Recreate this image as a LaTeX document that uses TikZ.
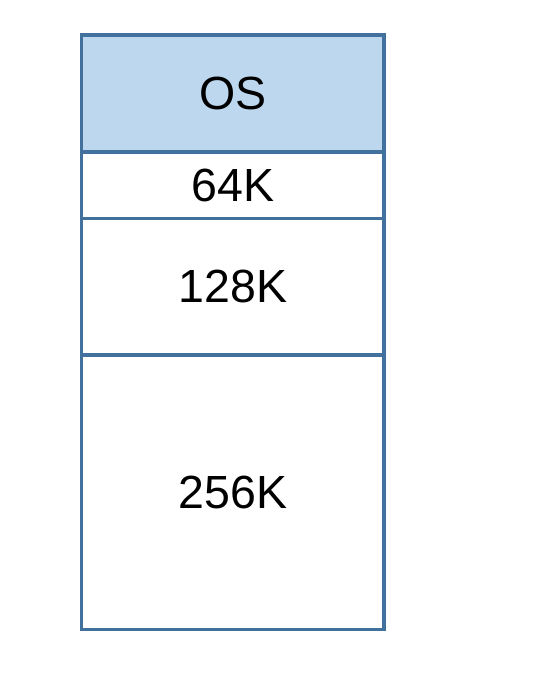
\documentclass[tikz,border=0pt]{standalone}
\usepackage{fontspec}
\setmainfont{Liberation Sans}
\usepackage{xcolor}
\definecolor{frameblue}{RGB}{65,113,156}
\definecolor{osfill}{RGB}{189,215,238}
\usetikzlibrary{positioning}

\begin{document}
\begin{tikzpicture}[x=1pt, y=1pt,
    seg/.style={draw=frameblue, line width=3.5pt, rectangle, outer sep=0pt,
      minimum width=302.5pt, inner sep=0pt, font=\fontsize{46.5}{50}\selectfont}]
  % Розміри сторінки
  \useasboundingbox (0, 0) rectangle (554, -685);

  % Розділи пам'яті
  \node[seg, fill=osfill, minimum height=117pt] (os) at (232.75, -93.5) {OS};
  \node[seg, minimum height=66.5pt, below=0pt of os] (k64) {64K};
  \node[seg, minimum height=136.5pt, below=0pt of k64] (k128) {128K};
  \node[seg, minimum height=274.5pt, below=0pt of k128] (k256) {256K};
\end{tikzpicture}
\end{document}
